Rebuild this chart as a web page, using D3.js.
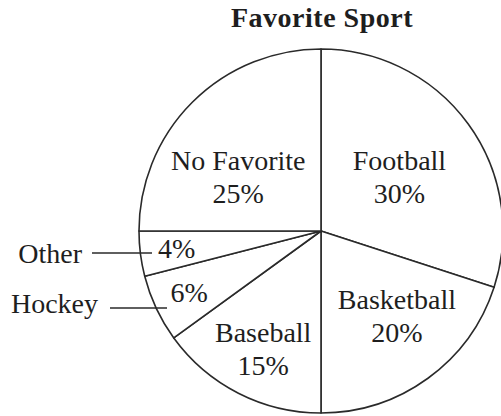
<!DOCTYPE html>
<html>
<head>
<meta charset="utf-8">
<script src="https://cdn.jsdelivr.net/npm/d3@7"></script>
<style>
  html, body { margin: 0; padding: 0; background: #fff; }
  svg { display: block; }
  text { font-family: "Liberation Serif", "Times New Roman", serif; fill: #1e1e1e; }
</style>
</head>
<body>
<svg id="chart" width="501" height="416"></svg>
<script>
// ---- data ----
const title = "Favorite Sport";
const categories = ["Football", "Basketball", "Baseball", "Hockey", "Other", "No Favorite"];
const values = [30, 20, 15, 6, 4, 25];
const insideName = [true, true, true, false, false, true]; // whether category name is drawn inside the slice

// ---- layout (not data) ----
const W = 501, H = 416;
const cx = 321, cy = 231, R = 182;
// label placement per slice: [radius fraction, angle shift in degrees]
const labelLayout = [[0.52, 2], [0.63, -5.5], [0.725, -1], [0.80, 0], [0.80, 0], [0.54, -12.4]];
// outside call-outs for narrow slices: text end (dx,dy from centre), leader line y and x-range
const callouts = {
  "Other":  { textX: -239, textY: 32, lineY: 22, x1: -229, x2: -169 },
  "Hockey": { textX: -223, textY: 82, lineY: 77, x1: -211, x2: -154 }
};

const svg = d3.select("#chart");
const stroke = "#2a2a2a";

svg.append("text")
  .attr("x", 322).attr("y", 27)
  .attr("text-anchor", "middle")
  .attr("font-weight", "bold")
  .attr("font-size", 28)
  .attr("letter-spacing", 0.5)
  .text(title);

const g = svg.append("g").attr("transform", `translate(${cx},${cy})`);

const pie = d3.pie().sort(null).value(d => d.v);
const arcs = pie(categories.map((c, i) => ({ c, v: values[i], inside: insideName[i] })));
const arc = d3.arc().innerRadius(0).outerRadius(R);

g.selectAll("path.slice")
  .data(arcs)
  .join("path")
  .attr("class", "slice")
  .attr("d", arc)
  .attr("fill", "#fff")
  .attr("stroke", stroke)
  .attr("stroke-width", 1.6)
  .attr("stroke-linejoin", "round");

const fmt = d => d3.format(".0%")(d.data.v / 100);

arcs.forEach((d, i) => {
  const [rf, shift] = labelLayout[i];
  const a = (d.startAngle + d.endAngle) / 2 + shift * Math.PI / 180;
  const r = rf * R;
  const x = Math.sin(a) * r, y = -Math.cos(a) * r;
  const t = g.append("text").attr("text-anchor", "middle").attr("font-size", 28);
  if (d.data.inside) {
    t.append("tspan").attr("x", x).attr("y", y - 8).text(d.data.c);
    t.append("tspan").attr("x", x).attr("y", y + 25).text(fmt(d));
  } else {
    t.append("tspan").attr("x", x).attr("y", y + 9).text(fmt(d));
    const co = callouts[d.data.c];
    g.append("text")
      .attr("x", co.textX).attr("y", co.textY)
      .attr("text-anchor", "end").attr("font-size", 28)
      .text(d.data.c);
    g.append("line")
      .attr("x1", co.x1).attr("x2", co.x2)
      .attr("y1", co.lineY).attr("y2", co.lineY)
      .attr("stroke", stroke).attr("stroke-width", 1.6);
  }
});
</script>
</body>
</html>
